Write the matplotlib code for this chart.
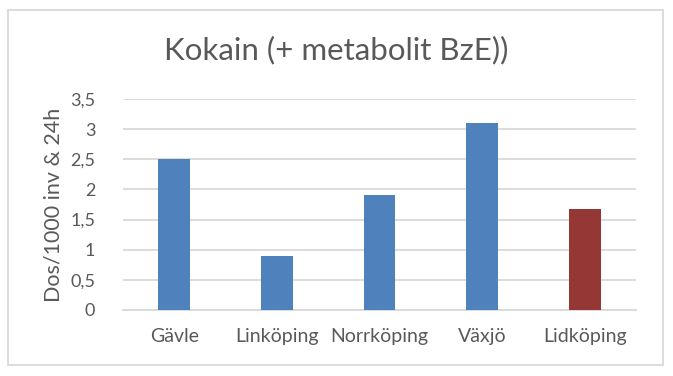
import matplotlib.pyplot as plt
from matplotlib.patches import Rectangle
from matplotlib.ticker import FuncFormatter

cities = ["Gävle", "Linköping", "Norrköping", "Växjö", "Lidköping"]
doses = [2.5, 0.9, 1.9, 3.1, 1.67]
bar_colors = ["#4f81bd", "#4f81bd", "#4f81bd", "#4f81bd", "#953735"]
yticks = [0, 0.5, 1, 1.5, 2, 2.5, 3, 3.5]

plt.rcParams["font.family"] = ["Lato", "DejaVu Sans"]
text_col = "#595959"

fig = plt.figure(figsize=(6.73, 3.76), dpi=100)
ax = fig.add_axes([123 / 673, 1 - 310 / 376, 513 / 673, 211 / 376])

x = range(len(cities))
ax.bar(x, doses, width=0.31, color=bar_colors, zorder=3)
ax.set_xlim(-0.5, len(cities) - 0.5)
ax.set_ylim(0, 3.5)
ax.set_yticks(yticks)
ax.yaxis.set_major_formatter(FuncFormatter(lambda v, p: f"{v:g}".replace(".", ",")))
ax.set_xticks(list(x))
ax.set_xticklabels(cities)
ax.grid(axis="y", color="#d9d9d9", linewidth=1.3, zorder=0)
for s in ["top", "right", "left"]:
    ax.spines[s].set_visible(False)
ax.spines["bottom"].set_color("#d9d9d9")
ax.spines["bottom"].set_linewidth(1.3)
ax.tick_params(length=0, labelsize=13, colors=text_col)
ax.tick_params(axis="x", labelsize=14, pad=13)
ax.tick_params(axis="y", pad=20)
ax.set_ylabel("Dos/1000 inv & 24h", fontsize=15.5, color=text_col, labelpad=5)

fig.text(0.5, 1 - 50 / 376, "Kokain (+ metabolit BzE))", ha="center", va="center",
         fontsize=22.5, color=text_col)

fig.patches.append(Rectangle((8 / 673, 1 - 365 / 376), 655 / 673, 355 / 376,
                             transform=fig.transFigure, fill=False,
                             edgecolor="#d9d9d9", linewidth=1.3))

fig.savefig("out.png", dpi=100, facecolor="white")
